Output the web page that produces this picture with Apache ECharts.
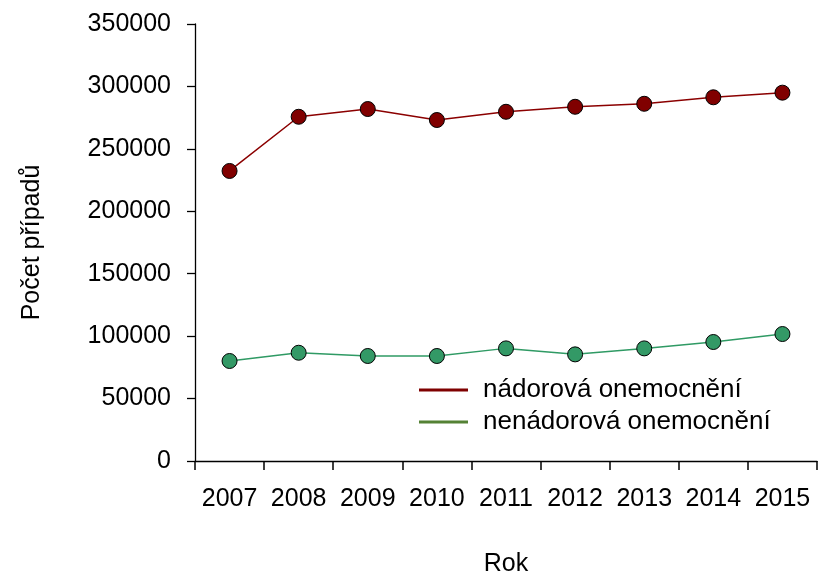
<!DOCTYPE html>
<html>
<head>
<meta charset="utf-8">
<script src="https://cdn.jsdelivr.net/npm/echarts@6/dist/echarts.min.js"></script>
<style>
  html, body { margin: 0; padding: 0; background: #fff; }
  #chart { width: 819px; height: 578px; }
</style>
</head>
<body>
<div id="chart"></div>
<script>
const years = ['2007', '2008', '2009', '2010', '2011', '2012', '2013', '2014', '2015']
const nadorova = [232300, 275700, 281900, 273100, 279700, 283700, 286100, 291300, 295000]
const nenadorova = [80100, 86700, 84100, 84100, 90200, 85400, 90200, 95300, 101700]
const seriesNames = ['nádorová onemocnění', 'nenádorová onemocnění']

const font = 'Liberation Sans, Arial, sans-serif'
const chart = echarts.init(document.getElementById('chart'))

chart.setOption({
  animation: false,
  grid: { left: 195, right: 2, top: 24, bottom: 117, outerBoundsMode: 'none' },
  legend: {
    left: 414,
    top: 372,
    orient: 'vertical',
    itemGap: 6,
    itemWidth: 49,
    itemHeight: 3,
    icon: 'rect',
    textStyle: { fontFamily: font, fontSize: 26, color: '#000', padding: [0, 0, 0, 10] },
    data: [
      { name: seriesNames[0], itemStyle: { color: '#7f0000', borderWidth: 0 } },
      { name: seriesNames[1], itemStyle: { color: '#548235', borderWidth: 0 } }
    ]
  },
  xAxis: {
    type: 'category',
    data: years,
    boundaryGap: true,
    name: 'Rok',
    nameLocation: 'middle',
    nameGap: 91,
    nameTextStyle: { fontFamily: font, fontSize: 25, color: '#000' },
    axisLine: { lineStyle: { color: '#000', width: 1.3 } },
    axisTick: { show: true, interval: 0, length: 9, alignWithLabel: false, lineStyle: { color: '#000', width: 1.5 } },
    axisLabel: { interval: 0, hideOverlap: false, fontFamily: font, fontSize: 25, color: '#000', margin: 26 }
  },
  yAxis: {
    type: 'value',
    min: 0,
    max: 350000,
    interval: 50000,
    name: 'Počet případů',
    nameLocation: 'middle',
    nameGap: 150,
    nameTextStyle: { fontFamily: font, fontSize: 25, color: '#000' },
    splitLine: { show: false },
    axisLine: { show: true, lineStyle: { color: '#000', width: 1.3 } },
    axisTick: { show: true, length: 8, lineStyle: { color: '#000', width: 1.3 } },
    axisLabel: {
      fontFamily: font, fontSize: 25, color: '#000', margin: 24,
      formatter: v => String(v)
    }
  },
  series: [
    {
      name: seriesNames[0],
      type: 'line',
      data: nadorova,
      symbol: 'circle',
      symbolSize: 15,
      lineStyle: { color: '#8b0000', width: 1.5 },
      itemStyle: { color: '#800000', borderColor: '#000', borderWidth: 1 }
    },
    {
      name: seriesNames[1],
      type: 'line',
      data: nenadorova,
      symbol: 'circle',
      symbolSize: 15,
      lineStyle: { color: '#2f9a64', width: 1.5 },
      itemStyle: { color: '#339966', borderColor: '#000', borderWidth: 1 }
    }
  ]
})
</script>
</body>
</html>
